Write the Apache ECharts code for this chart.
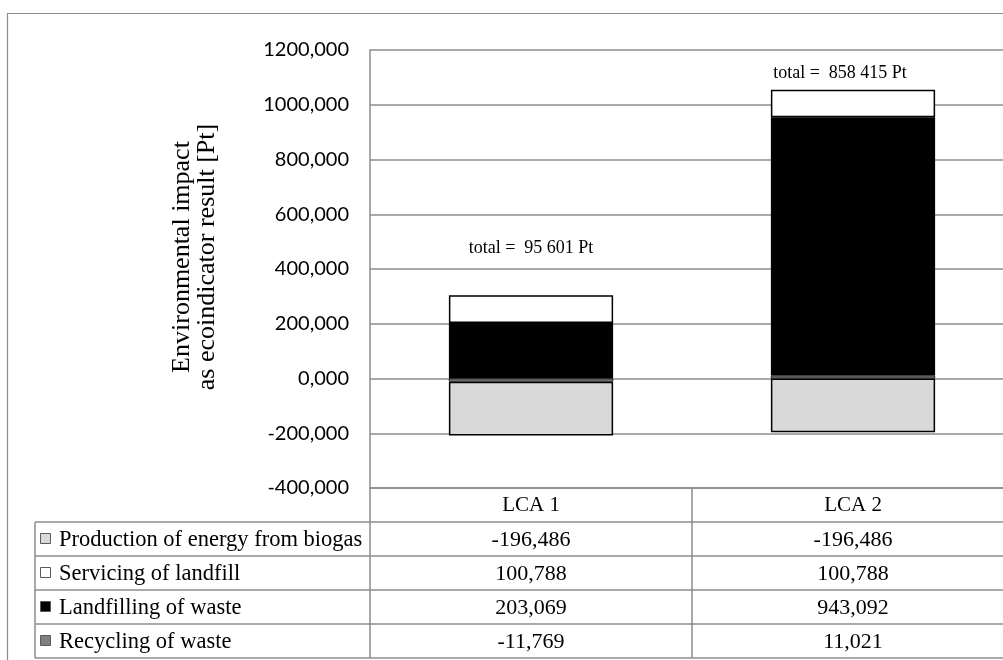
<!DOCTYPE html>
<html>
<head>
<meta charset="utf-8">
<script src="https://cdn.jsdelivr.net/npm/echarts@6/dist/echarts.min.js"></script>
<style>
  html, body { margin: 0; padding: 0; background: #ffffff; overflow: hidden; }
  /* the chart runs slightly past the right edge of the window */
  #chart { width: 1014px; height: 660px; }
</style>
</head>
<body>
<div id="chart"></div>
<script>
// Life-cycle scenarios and their impact contributions [Pt]
const categories = ['LCA 1', 'LCA 2'];
const production = [-196.486, -196.486];   // Production of energy from biogas
const servicing = [100.788, 100.788];      // Servicing of landfill
const landfilling = [203.069, 943.092];    // Landfilling of waste
const recycling = [-11.769, 11.021];       // Recycling of waste
const totalLabels = ['95 601', '858 415'];
const seriesNames = [
  'Production of energy from biogas',
  'Servicing of landfill',
  'Landfilling of waste',
  'Recycling of waste'
];
const yMin = -400, yMax = 1200, yStep = 200;

// Styling
const GRID_COLOR = '#8c8c8c';
const SERIF = '"Liberation Serif", "DejaVu Serif", serif';
const SANS = 'Lato, "Open Sans", sans-serif';
const fills = {
  production: '#d9d9d9',
  servicing: '#ffffff',
  landfilling: '#000000',
  recycling: '#808080'
};
const fmt = v => v.toFixed(3).replace('.', ',');

const chart = echarts.init(document.getElementById('chart'), null, { renderer: 'canvas' });

const barBase = {
  type: 'bar',
  stack: 'impact',
  barWidth: '51%',
  silent: true
};

// Total annotation placement above each column
const totalDistance = [38, 7];
const totalOffset = [[0, 0], [-13, 0]];

const option = {
  animation: false,
  backgroundColor: '#ffffff',
  grid: { left: 370, top: 50, right: 0, bottom: 172, containLabel: false },
  xAxis: {
    type: 'category',
    data: categories,
    position: 'bottom',
    axisLine: { show: true, onZero: false, lineStyle: { color: GRID_COLOR, width: 1.5 } },
    axisTick: { show: true, length: 170, alignWithLabel: false, lineStyle: { color: GRID_COLOR, width: 1.5 } },
    axisLabel: { margin: 7, color: '#000', fontFamily: SERIF, fontSize: 21 },
    splitLine: { show: false }
  },
  yAxis: {
    type: 'value',
    min: yMin,
    max: yMax,
    interval: yStep,
    name: 'Environmental impact\nas ecoindicator result [Pt]',
    nameLocation: 'middle',
    nameRotate: 90,
    nameGap: 150,
    nameTextStyle: { color: '#000', fontFamily: SERIF, fontSize: 26, lineHeight: 25, padding: [0, 0, 0, 24] },
    axisLine: { show: true, lineStyle: { color: GRID_COLOR, width: 1.5 } },
    axisTick: { show: false },
    axisLabel: { margin: 21, color: '#000', fontFamily: SANS, fontSize: 20, formatter: fmt },
    splitLine: { show: true, lineStyle: { color: GRID_COLOR, width: 1.5 } }
  },
  series: [
    Object.assign({}, barBase, {
      name: seriesNames[3], data: recycling,
      itemStyle: { color: fills.recycling, borderColor: '#000', borderWidth: 0.8 }
    }),
    Object.assign({}, barBase, {
      name: seriesNames[2], data: landfilling,
      itemStyle: { color: fills.landfilling, borderColor: '#000', borderWidth: 1.2 }
    }),
    Object.assign({}, barBase, {
      name: seriesNames[1],
      data: servicing.map((v, i) => ({
        value: v,
        label: { distance: totalDistance[i], offset: totalOffset[i] }
      })),
      itemStyle: { color: fills.servicing, borderColor: '#000', borderWidth: 1.5 },
      label: {
        show: true,
        position: 'top',
        color: '#000',
        fontFamily: SERIF,
        fontSize: 18,
        formatter: p => 'total =  ' + totalLabels[p.dataIndex] + ' Pt'
      }
    }),
    Object.assign({}, barBase, {
      name: seriesNames[0], data: production,
      itemStyle: { color: fills.production, borderColor: '#000', borderWidth: 1.5 }
    })
  ]
};

chart.setOption(option);

// Data table under the plot: one row per contribution, one column per scenario
const tableRows = [
  { name: seriesNames[0], values: production, fill: fills.production },
  { name: seriesNames[1], values: servicing, fill: fills.servicing },
  { name: seriesNames[2], values: landfilling, fill: fills.landfilling },
  { name: seriesNames[3], values: recycling, fill: fills.recycling }
];
const axisBottom = chart.convertToPixel({ yAxisIndex: 0 }, yMin);
const colX = categories.map(c => chart.convertToPixel({ xAxisIndex: 0 }, c));
const rowH = 34;
const tableLeft = 35;
const tableRight = chart.getWidth();
const lineStyle = { stroke: GRID_COLOR, lineWidth: 1.5 };

const graphics = [];
// outer frame
graphics.push({
  type: 'rect', silent: true, z: -1,
  shape: { x: 7.5, y: 13.5, width: 1100, height: 700 },
  style: { fill: null, stroke: GRID_COLOR, lineWidth: 1.2 }
});
// legend column left border
graphics.push({
  type: 'line', silent: true,
  shape: { x1: tableLeft, y1: axisBottom + rowH, x2: tableLeft, y2: axisBottom + rowH * 5 },
  style: lineStyle
});
for (let r = 1; r <= 5; r++) {
  const y = axisBottom + rowH * r;
  graphics.push({
    type: 'line', silent: true,
    shape: { x1: tableLeft, y1: y, x2: tableRight, y2: y },
    style: lineStyle
  });
}
tableRows.forEach((row, r) => {
  const yc = axisBottom + rowH * (r + 1) + rowH / 2;
  graphics.push({
    type: 'rect', silent: true,
    shape: { x: tableLeft + 5.5, y: yc - 5.5, width: 10, height: 10 },
    style: { fill: row.fill, stroke: '#5a5a5a', lineWidth: 1 }
  });
  graphics.push({
    type: 'text', silent: true,
    style: {
      x: tableLeft + 24, y: yc + 1, text: row.name,
      fill: '#000', font: '22.5px ' + SERIF, textAlign: 'left', textVerticalAlign: 'middle'
    }
  });
  row.values.forEach((v, c) => {
    graphics.push({
      type: 'text', silent: true,
      style: {
        x: colX[c], y: yc + 1, text: fmt(v),
        fill: '#000', font: '22px ' + SERIF, textAlign: 'center', textVerticalAlign: 'middle'
      }
    });
  });
});

chart.setOption({ graphic: graphics });
</script>
</body>
</html>
